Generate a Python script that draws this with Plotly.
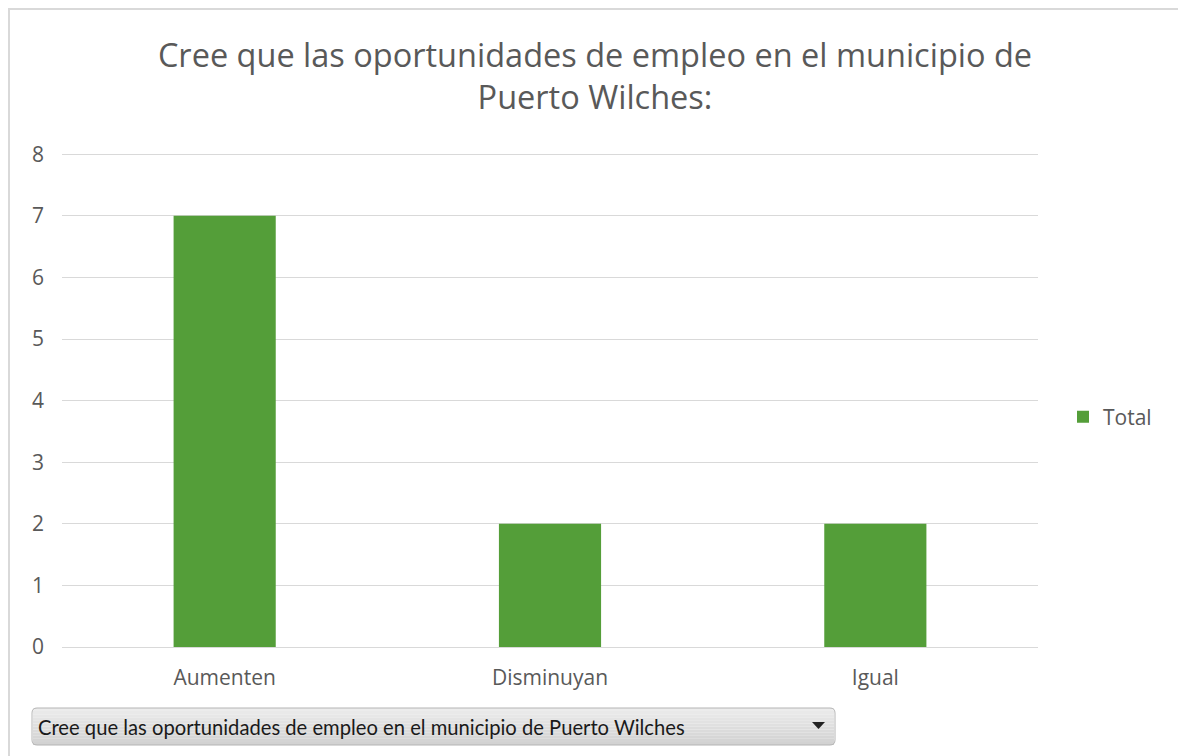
import plotly.graph_objects as go

categories = ["Aumenten", "Disminuyan", "Igual"]
values = [7, 2, 2]
series_name = "Total"
title_text = "Cree que las oportunidades de empleo en el municipio de<br>Puerto Wilches:"
field_button_text = "Cree que las oportunidades de empleo en el municipio de Puerto Wilches"

OFF = 8  # page body margin
W, H = 1186 - OFF, 756 - OFF
L, R, T, B = 62 - OFF, 1038 - OFF, 153 - OFF, 647 - OFF  # plot area in figure pixels

def px(x):
    # x given in screenshot pixels
    return (x - OFF - L) / (R - L)

def py(y):
    return (B - (y - OFF)) / (B - T)

fig = go.Figure()
fig.add_trace(go.Bar(
    x=categories, y=values, name=series_name,
    marker=dict(color="#549E39", line=dict(width=0)),
    showlegend=True,
))

grey = "#595959"
fig.update_layout(
    width=W, height=H,
    margin=dict(l=L, r=W - R, t=T, b=H - B, autoexpand=False),
    paper_bgcolor="white", plot_bgcolor="white",
    bargap=0.686,
    font=dict(family="Open Sans, sans-serif", color=grey, size=20),
    title=dict(text=title_text, x=(595 - OFF) / W, xref="container", xanchor="center",
               y=1 - 59 / H, yanchor="middle",
               font=dict(size=32.5, color=grey, family="Open Sans, sans-serif")),
    showlegend=True,
    legend=dict(x=px(1063), xanchor="left", y=py(417), yanchor="middle",
                font=dict(size=21, color=grey), itemwidth=30,
                bgcolor="rgba(0,0,0,0)"),
    xaxis=dict(showgrid=False, showline=False, zeroline=False,
               ticks="", ticklabelstandoff=16,
               tickfont=dict(size=21, color=grey)),
    yaxis=dict(range=[0, 8.02], tickvals=[0, 1, 2, 3, 4, 5, 6, 7, 8],
               showgrid=True, gridcolor="#D9D9D9",
               gridwidth=1, zeroline=True, zerolinecolor="#D9D9D9",
               zerolinewidth=1, showline=False, ticks="",
               ticklabelstandoff=17,
               tickfont=dict(size=21, color=grey)),
)

# outer chart border
fig.add_shape(type="rect", xref="paper", yref="paper",
              x0=px(9), x1=px(1179), y0=py(780), y1=py(9),
              line=dict(color="#D9D9D9", width=2), fillcolor="rgba(0,0,0,0)",
              layer="below")

# field button (rounded rectangle with gradient)
bx0, bx1, by0, by1, rr = 32, 835, 708, 745, 5
steps = 12
for i in range(steps):
    ya = by0 + (by1 - by0) * i / steps
    yb = by0 + (by1 - by0) * (i + 1) / steps
    c = int(236 - 26 * i / (steps - 1))
    fig.add_shape(type="rect", xref="paper", yref="paper",
                  x0=px(bx0 + 1), x1=px(bx1 - 1), y0=py(yb), y1=py(ya),
                  line=dict(width=0), fillcolor=f"rgb({c},{c},{c})")
path = (f"M {px(bx0+rr)},{py(by0)} L {px(bx1-rr)},{py(by0)} "
        f"Q {px(bx1)},{py(by0)} {px(bx1)},{py(by0+rr)} "
        f"L {px(bx1)},{py(by1-rr)} Q {px(bx1)},{py(by1)} {px(bx1-rr)},{py(by1)} "
        f"L {px(bx0+rr)},{py(by1)} Q {px(bx0)},{py(by1)} {px(bx0)},{py(by1-rr)} "
        f"L {px(bx0)},{py(by0+rr)} Q {px(bx0)},{py(by0)} {px(bx0+rr)},{py(by0)} Z")
fig.add_shape(type="path", xref="paper", yref="paper", path=path,
              line=dict(color="#B4B4B4", width=1), fillcolor="rgba(0,0,0,0)")
tri = (f"M {px(812)},{py(722)} L {px(825)},{py(722)} L {px(818.5)},{py(729)} Z")
fig.add_shape(type="path", xref="paper", yref="paper", path=tri,
              line=dict(width=0), fillcolor="#222222")
fig.add_annotation(xref="paper", yref="paper", x=px(36), y=py(727),
                   xanchor="left", yanchor="middle", showarrow=False,
                   text=field_button_text,
                   font=dict(family="Lato, sans-serif", size=20.2, color="#1a1a1a"))

fig.write_html("out.html")
